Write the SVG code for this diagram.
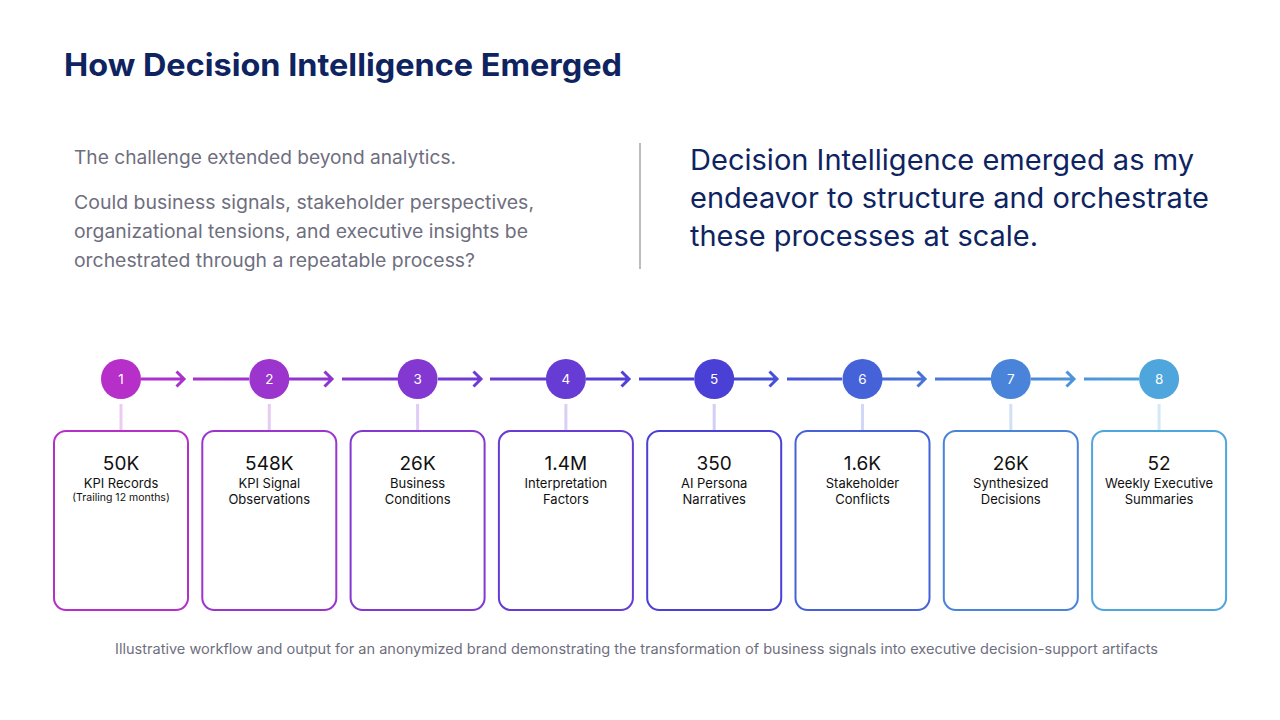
<svg xmlns="http://www.w3.org/2000/svg" width="1280" height="720" viewBox="0 0 1280 720">
<style>
.title{font-family:Inter,"Liberation Sans",sans-serif;font-weight:700;font-size:31px;fill:#0E2461}
.lead{font-family:Inter,"Liberation Sans",sans-serif;font-size:18.5px;fill:#6E6E7E}
.quote{font-family:Inter,"Liberation Sans",sans-serif;font-size:28px;fill:#0E2461}
.foot{font-family:Inter,"Liberation Sans",sans-serif;font-size:14px;fill:#6E6E7E}
.num{font-family:Inter,"Liberation Sans",sans-serif;font-size:13.5px;fill:#fff;text-anchor:middle}
.val{font-family:Inter,"Liberation Sans",sans-serif;font-size:19px;fill:#111;text-anchor:middle}
.lbl{font-family:Inter,"Liberation Sans",sans-serif;font-size:13px;fill:#111;text-anchor:middle}
.sub{font-family:Inter,"Liberation Sans",sans-serif;font-size:10.5px;fill:#111;text-anchor:middle}
.box{fill:#fff;stroke-width:2}
.flow{stroke:url(#g);stroke-width:3;fill:none}
.stem{stroke-width:3;stroke-opacity:0.25}
</style>
<defs>
<linearGradient id="g" gradientUnits="userSpaceOnUse" x1="121" y1="0" x2="1159" y2="0">
<stop offset="0" stop-color="#B62FC9"/>
<stop offset="0.43" stop-color="#5C3DD6"/>
<stop offset="0.57" stop-color="#4443D6"/>
<stop offset="1" stop-color="#4FA6DC"/>
</linearGradient>
</defs>
<rect width="1280" height="720" fill="#fff"/>
<text class="title" x="64" y="76" textLength="558" lengthAdjust="spacingAndGlyphs">How Decision Intelligence Emerged</text>
<text class="lead" x="74" y="164" textLength="382" lengthAdjust="spacingAndGlyphs">The challenge extended beyond analytics.</text>
<text class="lead" x="74" y="209" textLength="460" lengthAdjust="spacingAndGlyphs">Could business signals, stakeholder perspectives,</text>
<text class="lead" x="74" y="238" textLength="454" lengthAdjust="spacingAndGlyphs">organizational tensions, and executive insights be</text>
<text class="lead" x="74" y="267" textLength="401" lengthAdjust="spacingAndGlyphs">orchestrated through a repeatable process?</text>
<line x1="640" y1="143" x2="640" y2="269" stroke="#BDBDBD" stroke-width="2"/>
<text class="quote" x="690" y="170" textLength="504" lengthAdjust="spacingAndGlyphs">Decision Intelligence emerged as my</text>
<text class="quote" x="690" y="208" textLength="519" lengthAdjust="spacingAndGlyphs">endeavor to structure and orchestrate</text>
<text class="quote" x="690" y="246" textLength="348" lengthAdjust="spacingAndGlyphs">these processes at scale.</text>

<g id="connectors">
<path class="flow" d="M141 379H184M176.5 371.5L184 379L176.5 386.5"/>
<path class="flow" d="M193 379H249"/>
<path class="flow" d="M289 379H332M324.5 371.5L332 379L324.5 386.5"/>
<path class="flow" d="M342 379H398"/>
<path class="flow" d="M438 379H481M473.5 371.5L481 379L473.5 386.5"/>
<path class="flow" d="M490 379H546"/>
<path class="flow" d="M586 379H629M621.5 371.5L629 379L621.5 386.5"/>
<path class="flow" d="M639 379H694"/>
<path class="flow" d="M734 379H777M769.5 371.5L777 379L769.5 386.5"/>
<path class="flow" d="M787 379H842"/>
<path class="flow" d="M882 379H925M917.5 371.5L925 379L917.5 386.5"/>
<path class="flow" d="M935 379H991"/>
<path class="flow" d="M1031 379H1074M1066.5 371.5L1074 379L1066.5 386.5"/>
<path class="flow" d="M1084 379H1139"/>
<line class="stem" x1="121" y1="404" x2="121" y2="431" stroke="#B62FC9"/>
<line class="stem" x1="269.3" y1="404" x2="269.3" y2="431" stroke="#9C34CE"/>
<line class="stem" x1="417.6" y1="404" x2="417.6" y2="431" stroke="#8238D1"/>
<line class="stem" x1="565.9" y1="404" x2="565.9" y2="431" stroke="#673CD5"/>
<line class="stem" x1="714.2" y1="404" x2="714.2" y2="431" stroke="#4A40D6"/>
<line class="stem" x1="862.5" y1="404" x2="862.5" y2="431" stroke="#4662D9"/>
<line class="stem" x1="1010.8" y1="404" x2="1010.8" y2="431" stroke="#4A84DA"/>
<line class="stem" x1="1159.1" y1="404" x2="1159.1" y2="431" stroke="#4FA6DC"/>
</g>

<g id="step1">
<circle cx="121" cy="379" r="20" fill="#B62FC9"/><text class="num" x="121" y="384">1</text>
<rect class="box" x="54" y="431" width="134" height="179" rx="12" stroke="#B62FC9"/>
<text class="val" x="121" y="470">50K</text>
<text class="lbl" x="121" y="488">KPI Records</text>
<text class="sub" x="121" y="501">(Trailing 12 months)</text>
</g>
<g id="step2">
<circle cx="269.3" cy="379" r="20" fill="#9C34CE"/><text class="num" x="269.3" y="384">2</text>
<rect class="box" x="202.3" y="431" width="134" height="179" rx="12" stroke="#9C34CE"/>
<text class="val" x="269.3" y="470">548K</text>
<text class="lbl" x="269.3" y="488">KPI Signal</text>
<text class="lbl" x="269.3" y="504">Observations</text>
</g>
<g id="step3">
<circle cx="417.6" cy="379" r="20" fill="#8238D1"/><text class="num" x="417.6" y="384">3</text>
<rect class="box" x="350.6" y="431" width="134" height="179" rx="12" stroke="#8238D1"/>
<text class="val" x="417.6" y="470">26K</text>
<text class="lbl" x="417.6" y="488">Business</text>
<text class="lbl" x="417.6" y="504">Conditions</text>
</g>
<g id="step4">
<circle cx="565.9" cy="379" r="20" fill="#673CD5"/><text class="num" x="565.9" y="384">4</text>
<rect class="box" x="498.9" y="431" width="134" height="179" rx="12" stroke="#673CD5"/>
<text class="val" x="565.9" y="470">1.4M</text>
<text class="lbl" x="565.9" y="488">Interpretation</text>
<text class="lbl" x="565.9" y="504">Factors</text>
</g>
<g id="step5">
<circle cx="714.2" cy="379" r="20" fill="#4A40D6"/><text class="num" x="714.2" y="384">5</text>
<rect class="box" x="647.2" y="431" width="134" height="179" rx="12" stroke="#4A40D6"/>
<text class="val" x="714.2" y="470">350</text>
<text class="lbl" x="714.2" y="488">AI Persona</text>
<text class="lbl" x="714.2" y="504">Narratives</text>
</g>
<g id="step6">
<circle cx="862.5" cy="379" r="20" fill="#4662D9"/><text class="num" x="862.5" y="384">6</text>
<rect class="box" x="795.5" y="431" width="134" height="179" rx="12" stroke="#4662D9"/>
<text class="val" x="862.5" y="470">1.6K</text>
<text class="lbl" x="862.5" y="488">Stakeholder</text>
<text class="lbl" x="862.5" y="504">Conflicts</text>
</g>
<g id="step7">
<circle cx="1010.8" cy="379" r="20" fill="#4A84DA"/><text class="num" x="1010.8" y="384">7</text>
<rect class="box" x="943.8" y="431" width="134" height="179" rx="12" stroke="#4A84DA"/>
<text class="val" x="1010.8" y="470">26K</text>
<text class="lbl" x="1010.8" y="488">Synthesized</text>
<text class="lbl" x="1010.8" y="504">Decisions</text>
</g>
<g id="step8">
<circle cx="1159.1" cy="379" r="20" fill="#4FA6DC"/><text class="num" x="1159.1" y="384">8</text>
<rect class="box" x="1092.1" y="431" width="134" height="179" rx="12" stroke="#4FA6DC"/>
<text class="val" x="1159.1" y="470">52</text>
<text class="lbl" x="1159.1" y="488">Weekly Executive</text>
<text class="lbl" x="1159.1" y="504">Summaries</text>
</g>

<text class="foot" x="115" y="654" textLength="1043" lengthAdjust="spacingAndGlyphs">Illustrative workflow and output for an anonymized brand demonstrating the transformation of business signals into executive decision-support artifacts</text>
</svg>
